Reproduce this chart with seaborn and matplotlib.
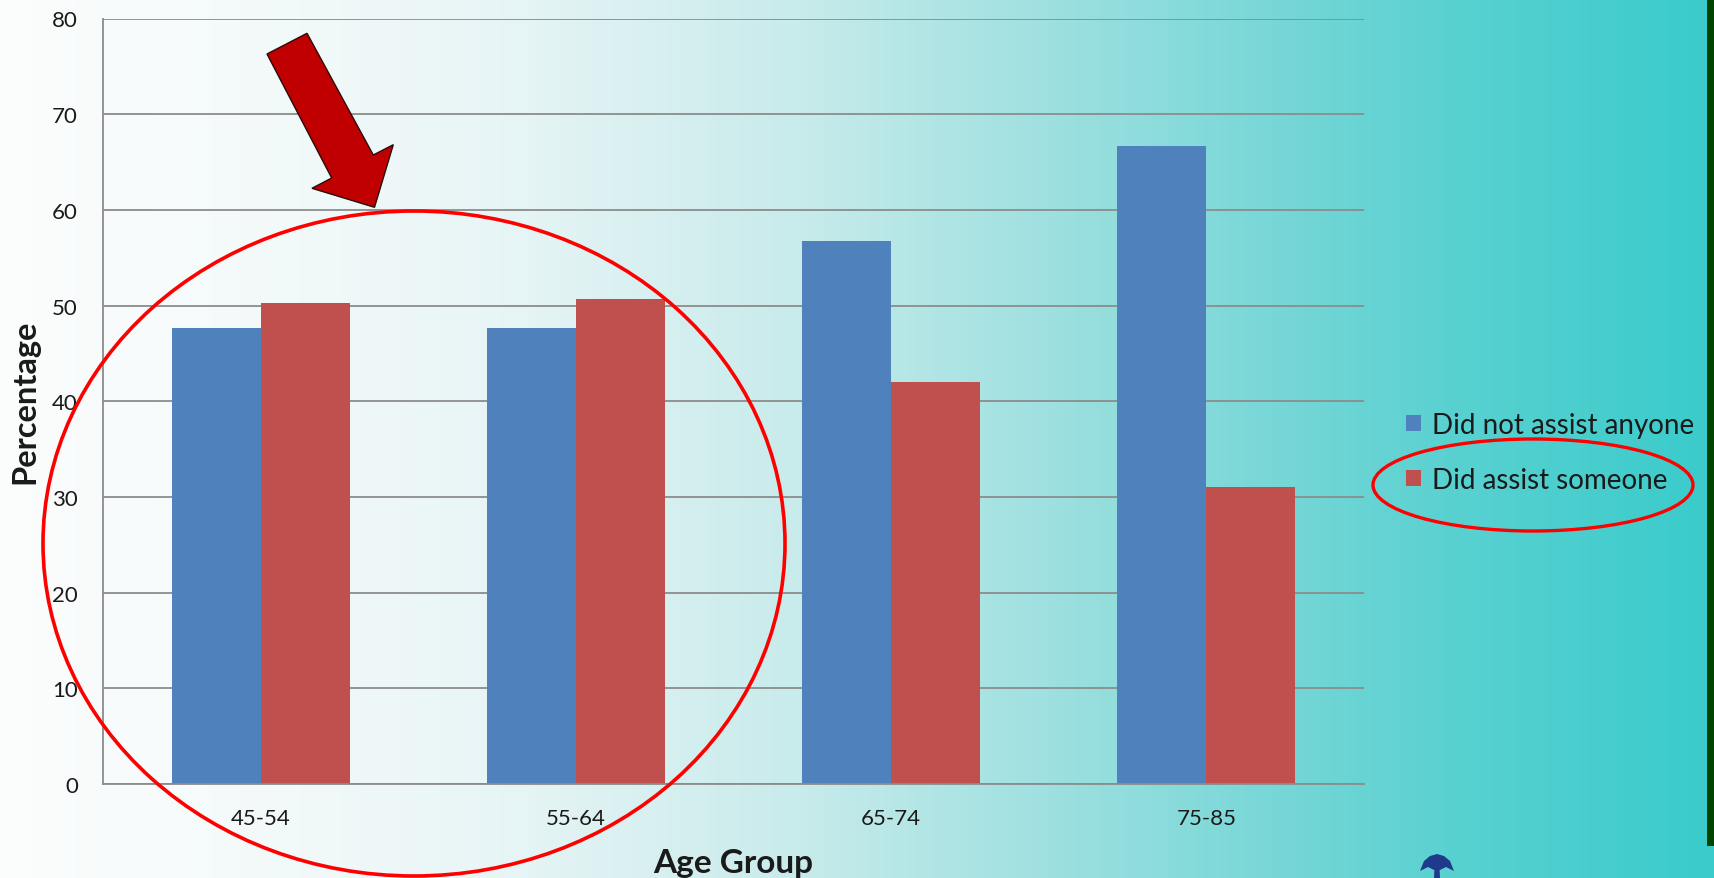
import numpy as np
import pandas as pd
import matplotlib
matplotlib.use("Agg")
import matplotlib.pyplot as plt
from matplotlib.patches import Ellipse, Polygon, Rectangle
import seaborn as sns

# ---- data ----
age_groups = ["45-54", "55-64", "65-74", "75-85"]
did_not_assist = [47.7, 47.7, 56.7, 66.7]
did_assist = [50.3, 50.7, 42.0, 31.0]
series_names = ["Did not assist anyone", "Did assist someone"]
y_ticks = [0, 10, 20, 30, 40, 50, 60, 70, 80]

df = pd.DataFrame({
    "Age Group": age_groups * 2,
    "Percentage": did_not_assist + did_assist,
    "Series": [series_names[0]] * 4 + [series_names[1]] * 4,
})

BLUE = "#4F81BD"
RED = "#C0504D"
GRID = "#8C8C8C"
TEXT = "#1A1A1A"

sns.set_style("white")
plt.rcParams["font.family"] = ["Lato", "DejaVu Sans"]

W, H = 1714, 879
fig = plt.figure(figsize=(W / 100, H / 100), dpi=100)


def fx(px):
    return px / W


def fy(py):
    return 1 - py / H


# ---- horizontal white-to-teal backdrop ----
bg = fig.add_axes([0, 0, 1, 1], zorder=-10)
stops_x = np.array([0, 300, 500, 800, 1100, 1320, 1450, 1714]) / W
stops_c = np.array([
    (252, 253, 253), (242, 249, 249), (232, 245, 246), (200, 235, 235),
    (150, 222, 222), (112, 213, 213), (90, 209, 209), (58, 203, 203),
]) / 255.0
xs = np.linspace(0, 1, 800)
grad = np.stack([np.interp(xs, stops_x, stops_c[:, k]) for k in range(3)], axis=-1)
bg.imshow(grad[np.newaxis, :, :], aspect="auto", extent=[0, 1, 0, 1])
bg.add_patch(Rectangle((fx(1707), fy(847)), fx(7), 847 / H,
                       facecolor="#004400", edgecolor="none"))
bg.set_xlim(0, 1)
bg.set_ylim(0, 1)
bg.axis("off")

# ---- bar chart ----
ax = fig.add_axes([fx(103), fy(785), fx(1364 - 103), (785 - 19.5) / H])
ax.set_facecolor("none")
sns.barplot(data=df, x="Age Group", y="Percentage", hue="Series",
            palette=[BLUE, RED], saturation=1, width=0.565, gap=0,
            linewidth=0, ax=ax)

ax.set_xlim(-0.5, 3.5)
ax.set_ylim(0, 80)
ax.set_yticks(y_ticks)
ax.set_axisbelow(True)
ax.yaxis.grid(True, color=GRID, linewidth=1.3)
ax.xaxis.grid(False)
for side in ("top", "right"):
    ax.spines[side].set_visible(False)
for side in ("left", "bottom"):
    ax.spines[side].set_color(GRID)
    ax.spines[side].set_linewidth(1.3)

ax.set_xticks([-0.5, 0.5, 1.5, 2.5, 3.5], minor=True)
ax.tick_params(axis="x", which="major", length=0, pad=17, labelsize=16, labelcolor=TEXT)
ax.tick_params(axis="x", which="minor", length=6, width=1.3, color=GRID)
ax.tick_params(axis="y", length=6, width=1.3, color=GRID, pad=12,
               labelsize=16, labelcolor=TEXT)

ax.set_xlabel("Age Group", fontsize=24, fontweight="bold", color=TEXT, va="center")
ax.xaxis.set_label_coords(0.5, (785 - 864) / 765.5)
ax.set_ylabel("Percentage", fontsize=23.5, fontweight="bold", color=TEXT, va="center")
ax.yaxis.set_label_coords((25 - 103) / 1261, 0.5)

handles, labels = ax.get_legend_handles_labels()
ax.legend(handles, labels, loc="upper left",
          bbox_to_anchor=(fx(1406), fy(413)), bbox_transform=fig.transFigure,
          frameon=False, fontsize=20, handlelength=0.54, handleheight=0.54,
          handletextpad=0.4, labelspacing=1.03, borderpad=0, borderaxespad=0,
          labelcolor=TEXT)

# ---- highlight annotations ----
fig.add_artist(Ellipse((fx(414), fy(544.5)), fx(742), 665 / H,
                       transform=fig.transFigure, fill=False,
                       edgecolor="#FF0000", linewidth=2.6, zorder=20))
fig.add_artist(Ellipse((fx(1533), fy(486)), fx(320), 92 / H,
                       transform=fig.transFigure, fill=False,
                       edgecolor="#FF0000", linewidth=2.4, zorder=20))

arrow_px = [(267, 55), (307, 34.3), (373.3, 156), (393.3, 145.7),
            (374.5, 208.3), (312, 189.3), (331.7, 179)]
fig.add_artist(Polygon([(fx(x), fy(y)) for x, y in arrow_px], closed=True,
                       transform=fig.transFigure, facecolor="#C00000",
                       edgecolor="#2A0A0A", linewidth=1.0, zorder=21))

# small tree emblem at the bottom edge: a fan-shaped crown and a trunk
crown_px = [(1420, 872), (1424, 862), (1430, 857), (1437, 855), (1444, 857),
            (1450, 862), (1454, 872), (1446, 868), (1440, 871), (1434, 871),
            (1428, 868)]
fig.add_artist(Polygon([(fx(x), fy(y)) for x, y in crown_px], closed=True,
                       transform=fig.transFigure, facecolor="#1F3A8A",
                       edgecolor="none", zorder=5))
trunk_px = [(1435, 858), (1439, 858), (1440, 879), (1434, 879)]
fig.add_artist(Polygon([(fx(x), fy(y)) for x, y in trunk_px], closed=True,
                       transform=fig.transFigure, facecolor="#1F3A8A",
                       edgecolor="none", zorder=5))

fig.savefig("out.png", dpi=100)
